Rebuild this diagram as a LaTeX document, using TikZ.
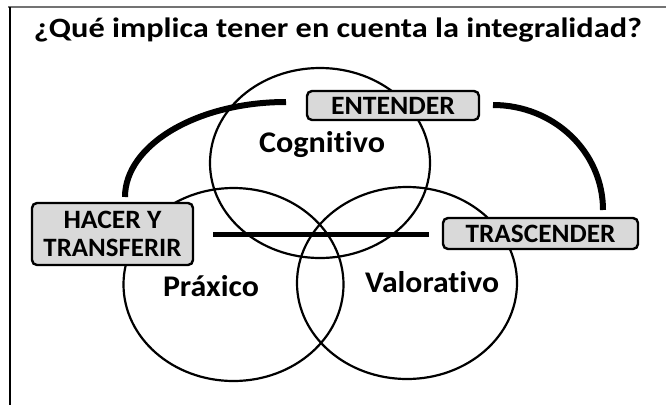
\documentclass[tikz,border=0pt]{standalone}
\usepackage{fontspec}
\setmainfont{Carlito}[Ligatures={NoCommon}]
\usetikzlibrary{shapes.geometric}
\newcommand\fitw[3]{\resizebox{#1pt}{\height}{\fontsize{#2}{#2}\selectfont\bfseries #3}}
\begin{document}
\begin{tikzpicture}[x=1pt,y=-1pt,
  venn/.style={ellipse, draw, line width=2.2pt, inner sep=0pt},
  lbl/.style={inner sep=0pt, anchor=base},
  tag/.style={draw, line width=2.4pt, fill=black!15, rounded corners=5pt, inner sep=0pt, align=center},
  band/.style={line width=6pt},
  bar/.style={line width=5pt},
]
\useasboundingbox (0,0) rectangle (666,405);
\fill[white] (0,0) rectangle (666,405);
\draw[black!55, line width=1.5pt] (8,7) -- (666,7);
\draw[line width=1.2pt] (10,7) -- (10,405);
\node[lbl] (title) at (338,37) {\fitw{608}{28}{¿Qué implica tener en cuenta la integralidad?}};
% circles
\node[venn, minimum width=220pt, minimum height=190pt] (cog) at (320,163) {};
\node[venn, minimum width=220pt, minimum height=193pt] (prax) at (233.5,284.5) {};
\node[venn, minimum width=220pt, minimum height=192pt] (val) at (407,283) {};
% labels
\node[lbl] (cogl) at (322,152) {\fitw{126}{30}{Cognitivo}};
\node[lbl] (praxl) at (211,296) {\fitw{96}{30}{Práxico}};
\node[lbl] (vall) at (432,292) {\fitw{134}{30}{Valorativo}};
% connectors
\coordinate (h1) at (213,234);
\coordinate (h2) at (429,234);
\draw[bar] (h1) -- (h2);
\coordinate (l1) at (286,102);
\coordinate (l2) at (125,197);
\draw[band] (l1) .. controls (197,102) and (125,145) .. (l2);
\coordinate (r1) at (493,105);
\coordinate (r2) at (603,210);
\draw[band] (r1) .. controls (554,105) and (603,152) .. (r2);
% boxes
\node[tag, minimum width=172pt, minimum height=29pt] (ent) at (393,105.5) {\fitw{124}{26.5}{ENTENDER}};
\node[tag, minimum width=161pt, minimum height=62pt, font=\fontsize{26.5}{28}\selectfont] (hac) at (112.5,234) {\fitw{98}{26.5}{HACER Y}\\\fitw{138}{26.5}{TRANSFERIR}};
\node[tag, minimum width=195pt, minimum height=31pt] (tra) at (540.5,233.5) {\fitw{150}{26.5}{TRASCENDER}};
\end{tikzpicture}
\end{document}
